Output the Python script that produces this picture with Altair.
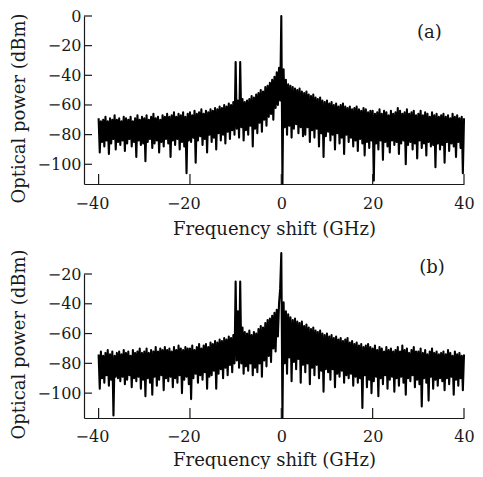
import altair as alt
import pandas as pd

# ---------------- data ----------------
x_ticks = [-40, -20, 0, 20, 40]
y_ticks_a = [0, -20, -40, -60, -80, -100]
y_ticks_b = [-20, -40, -60, -80, -100]

# sampling grid (GHz): upper points and lower points in between
x_top = [-40 + 0.5 * i for i in range(161)]
x_low = [-39.75 + 0.5 * i for i in range(160)]

# panel (a): upper edge of trace (dBm)
top_a = [
    -69, -71, -70, -68, -71, -69, -70, -67, -70, -69,
    -71, -68, -69, -70, -68, -71, -69, -67, -70, -68,
    -69, -67, -70, -68, -66, -69, -68, -70, -67, -68,
    -66, -68, -67, -65, -68, -66, -67, -65, -68, -66,
    -65, -67, -64, -66, -65, -63, -66, -64, -65, -63,
    -64, -62, -63, -61, -62, -60, -61, -59, -60, -58,
    -31, -57, -31, -56, -58, -57, -56, -54, -55, -53,
    -52, -50, -51, -48, -47, -45, -43, -41, -38, -35,
    0,
    -36, -43, -46, -47, -48, -49, -50, -49, -51,
    -52, -51, -53, -54, -53, -55, -56, -55, -57, -58,
    -57, -59, -58, -60, -59, -61, -60, -59, -61, -62,
    -61, -63, -62, -61, -63, -64, -62, -63, -65, -64,
    -64, -66, -65, -63, -66, -64, -65, -67, -64, -66,
    -65, -62, -64, -66, -65, -63, -66, -65, -64, -67,
    -66, -64, -67, -65, -66, -68, -65, -67, -66, -68,
    -67, -66, -68, -67, -69, -66, -68, -67, -69, -68,
    -69,
]
# panel (a): lower edge of trace (dBm)
low_a = [
    -92, -85, -88, -84, -93, -86, -83, -90, -85, -87,
    -84, -91, -86, -83, -88, -85, -95, -84, -87, -86,
    -98, -85, -83, -89, -86, -84, -92, -85, -88, -83,
    -86, -95, -84, -87, -83, -90, -85, -88, -106, -84,
    -85, -82, -99, -84, -81, -87, -83, -92, -80, -85,
    -82, -90, -79, -84, -80, -86, -78, -83, -77, -80,
    -76, -82, -75, -84, -77, -80, -74, -88, -76, -79,
    -72, -78, -70, -74, -68, -66, -70, -62, -60, -57,
    -113.3, -75, -80, -74, -82, -76, -73, -79, -75, -81,
    -80, -75, -85, -77, -82, -76, -88, -79, -95, -81,
    -78, -84, -80, -90, -79, -86, -82, -93, -80, -85,
    -82, -88, -84, -91, -83, -86, -94, -85, -89, -84,
    -111, -86, -90, -84, -97, -85, -88, -92, -84, -87,
    -85, -93, -86, -84, -100, -87, -85, -90, -86, -96,
    -84, -89, -86, -94, -85, -88, -87, -102, -86, -90,
    -87, -99, -85, -91, -86, -88, -95, -85, -89, -106,
]

# panel (b): upper edge of trace (dBm)
top_b = [
    -74, -72, -75, -73, -71, -74, -72, -75, -73, -72,
    -74, -71, -73, -72, -75, -71, -73, -72, -70, -73,
    -72, -70, -73, -71, -72, -69, -72, -70, -71, -69,
    -71, -70, -72, -69, -71, -68, -70, -71, -69, -70,
    -70, -68, -71, -69, -67, -70, -68, -67, -69, -66,
    -67, -65, -66, -64, -65, -63, -64, -62, -63, -61,
    -25, -45, -25, -56, -59, -60, -58, -61, -59, -60,
    -57, -55, -56, -53, -51, -50, -48, -46, -44, -40,
    -6,
    -39, -45, -47, -49, -51, -50, -52, -53, -52,
    -55, -54, -56, -57, -56, -58, -59, -58, -60, -61,
    -60, -62, -61, -63, -62, -64, -63, -65, -64, -63,
    -66, -65, -67, -66, -68, -67, -69, -68, -67, -69,
    -70, -68, -71, -69, -70, -72, -69, -71, -70, -72,
    -71, -69, -72, -68, -71, -70, -73, -71, -69, -72,
    -72, -70, -73, -71, -74, -72, -70, -73, -72, -74,
    -73, -72, -74, -71, -73, -75, -72, -74, -73, -75,
    -74,
]
# panel (b): lower edge of trace (dBm)
low_b = [
    -97, -90, -93, -88, -95, -91, -115, -89, -90, -92,
    -89, -94, -91, -88, -96, -90, -92, -89, -97, -91,
    -102, -90, -93, -101, -89, -95, -91, -88, -98, -90,
    -92, -89, -96, -90, -93, -88, -100, -91, -89, -94,
    -104, -90, -87, -93, -88, -91, -86, -97, -89, -88,
    -85, -97, -87, -84, -90, -83, -88, -81, -86, -80,
    -78, -83, -80, -87, -82, -85, -80, -88, -83, -86,
    -80, -89, -78, -82, -75, -79, -70, -72, -62, -30,
    -116.7, -80, -87, -76, -92, -79, -84, -77, -93, -81,
    -86, -80, -94, -83, -88, -81, -90, -85, -99, -84,
    -86, -91, -84, -96, -87, -89, -85, -93, -88, -90,
    -87, -95, -89, -93, -90, -110, -88, -96, -91, -100,
    -92, -89, -102, -90, -94, -88, -97, -91, -89, -99,
    -90, -95, -89, -93, -101, -90, -92, -88, -96, -91,
    -94, -109, -90, -93, -105, -89, -97, -91, -95, -90,
    -92, -98, -90, -94, -89, -101, -91, -95, -90, -98,
]

panel_labels = ["(a)", "(b)"]
label_x = [32.4, 33.0]
label_y = [-11.5, -16.2]

# ---------------- chart ----------------
FONT = "DejaVu Serif"
INK = "#1a1a1a"
W = 380


def zigzag(top, low):
    rows = []
    for i in range(len(low)):
        rows.append({"f": x_top[i], "p": top[i]})
        rows.append({"f": x_low[i], "p": low[i]})
    rows.append({"f": x_top[-1], "p": top[-1]})
    return pd.DataFrame(rows)


x_scale = alt.Scale(domain=[-43.2, 40], nice=False, zero=False)


def panel(top, low, ydom, yticks, H, idx, lp, tp, ty):
    y_scale = alt.Scale(domain=ydom, nice=False, zero=False)
    xaxis = alt.Axis(
        values=x_ticks, title="Frequency shift (GHz)", ticks=False, tickSize=0,
        grid=False, labelPadding=lp, titlePadding=tp, labelFlush=False,
        labelAlign={"condition": {"test": "datum.value < 0", "value": "right"}, "value": "center"},
        labelOffset={"condition": {"test": "datum.value < 0", "value": 10.2}, "value": 0},
        domainColor=INK, domainWidth=1.2,
        labelFont=FONT, labelFontSize=16, labelColor=INK,
        titleFont=FONT, titleFontSize=18, titleFontWeight="normal", titleColor=INK,
    )
    yaxis = alt.Axis(
        values=yticks, title="Optical power (dBm)", ticks=False, tickSize=0,
        grid=False, labelPadding=3, titlePadding=9, labelFlush=False, titleY=ty,
        domainColor=INK, domainWidth=1.2,
        labelFont=FONT, labelFontSize=16, labelColor=INK,
        titleFont=FONT, titleFontSize=18, titleFontWeight="normal", titleColor=INK,
    )
    X = alt.X("f:Q", scale=x_scale, axis=xaxis)
    Y = alt.Y("p:Q", scale=y_scale, axis=yaxis)
    line = alt.Chart(zigzag(top, low)).mark_line(
        color="black", strokeWidth=2.1, clip=False, strokeJoin="round"
    ).encode(x=X, y=Y)
    xt = alt.Chart(pd.DataFrame({"f": x_ticks})).mark_rule(
        color=INK, strokeWidth=1.2
    ).encode(x=X, y=alt.value(H), y2=alt.value(H - 10))
    yt = alt.Chart(pd.DataFrame({"p": yticks})).mark_rule(
        color=INK, strokeWidth=1.2
    ).encode(y=Y, x=alt.value(0), x2=alt.value(8))
    txt = alt.Chart(pd.DataFrame({"f": [label_x[idx]], "p": [label_y[idx]], "s": [panel_labels[idx]]})).mark_text(
        font=FONT, fontSize=18, color=INK, clip=False
    ).encode(x=X, y=Y, text="s:N")
    return alt.layer(line, xt, yt, txt).properties(width=W, height=H)


pa = panel(top_a, low_a, [-113.3, 0], y_ticks_a, 168, 0, 11, 9, 92)
pb = panel(top_b, low_b, [-116.7, -20], y_ticks_b, 144, 1, 10, 7, 70)

chart = alt.vconcat(pa, pb, spacing=90, bounds="flush").properties(
    padding={"left": 2, "top": 0, "right": 0, "bottom": 0}
).configure_view(stroke=None)

chart.save("out.html", embed_options={"renderer": "svg", "actions": False})
